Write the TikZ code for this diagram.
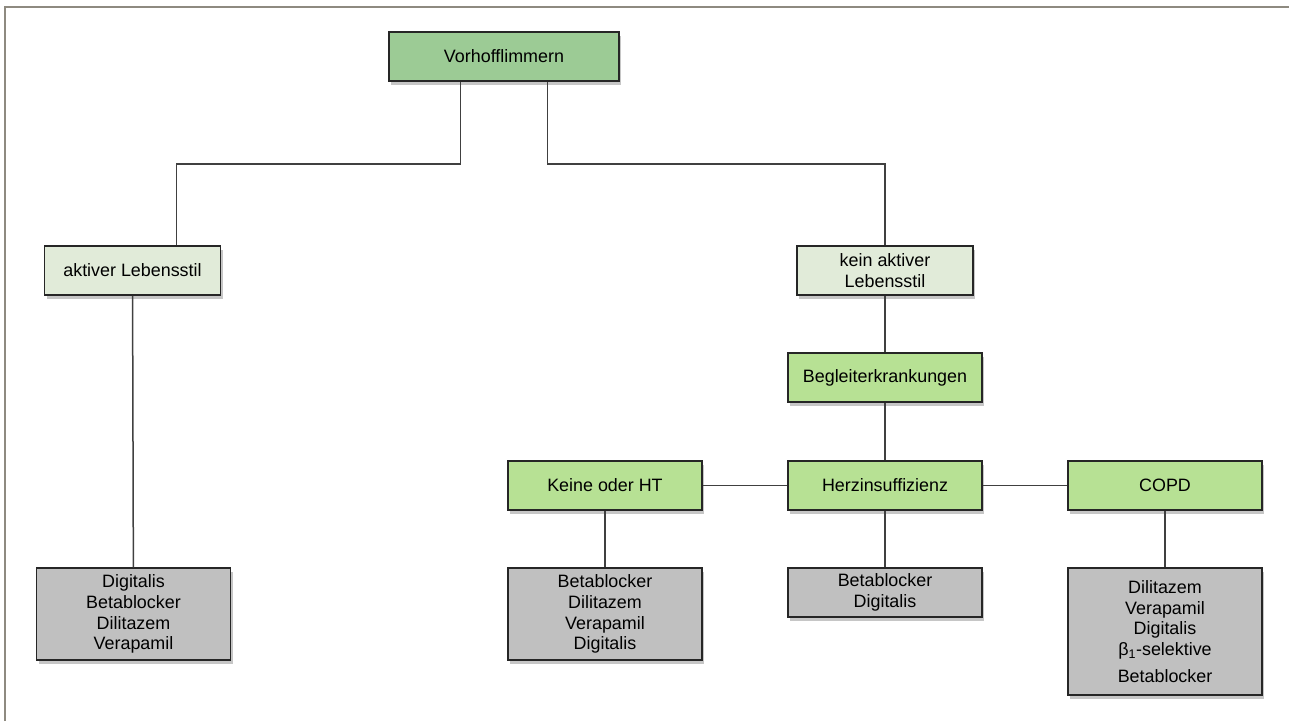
\documentclass[tikz,border=0pt]{standalone}
\usepackage{fontspec}
\setmainfont{Liberation Sans}
\usetikzlibrary{shadows}

\definecolor{topgreen}{HTML}{9CCB95}
\definecolor{palegreen}{HTML}{E1EBD9}
\definecolor{boxgreen}{HTML}{B7E194}
\definecolor{boxgray}{HTML}{C0C0C0}
\definecolor{framegray}{HTML}{8E8A80}

\begin{document}
\begin{tikzpicture}[x=1pt,y=-1pt,
  box/.style={draw=black!85,line width=1.5pt,inner sep=0pt,align=center,
    font=\fontsize{17.9}{20.8}\selectfont,
    drop shadow={shadow xshift=2pt,shadow yshift=-4pt,opacity=0.45}},
  link/.style={draw=black!75,line width=1.5pt}]

\useasboundingbox (0,0) rectangle (1289,721);
\draw [framegray,line width=2pt] (4.5,721) -- (4.5,6.5) -- (1289,6.5);

\node [box,fill=topgreen,minimum width=230pt,minimum height=49pt] (vhf) at (504,56.5) {Vorhofflimmern};
\node [box,fill=palegreen,minimum width=176pt,minimum height=49pt] (akt) at (132.5,270.5) {aktiver Lebensstil};
\node [box,fill=palegreen,minimum width=176pt,minimum height=49pt] (kein) at (885,270.5) {kein aktiver\\Lebensstil};
\node [box,fill=boxgreen,minimum width=194pt,minimum height=49pt] (begl) at (885,377.5) {Begleiterkrankungen};
\node [box,fill=boxgreen,minimum width=194pt,minimum height=49pt] (herz) at (885,485.5) {Herzinsuffizienz};
\node [box,fill=boxgreen,minimum width=194pt,minimum height=49pt] (keine) at (605,485.5) {Keine oder HT};
\node [box,fill=boxgreen,minimum width=194pt,minimum height=49pt] (copd) at (1165,485.5) {COPD};

\node [box,fill=boxgray,minimum width=194pt,minimum height=92pt] (thakt) at (133.5,614) {Digitalis\\Betablocker\\Dilitazem\\Verapamil};
\node [box,fill=boxgray,minimum width=194pt,minimum height=92pt] (thkeine) at (605,614) {Betablocker\\Dilitazem\\Verapamil\\Digitalis};
\node [box,fill=boxgray,minimum width=194pt,minimum height=49pt] (thherz) at (885,592.5) {Betablocker\\Digitalis};
\node [box,fill=boxgray,minimum width=194pt,minimum height=127pt] (thcopd) at (1165,631.5) {Dilitazem\\Verapamil\\Digitalis\\β\textsubscript{1}-selektive\\[6pt]Betablocker};

\draw [link] ([xshift=-43.5pt]vhf.south) -- ++(0,82) -| ([xshift=44pt]akt.north);
\draw [link] ([xshift=43.5pt]vhf.south) -- ++(0,82) -| (kein.north);
\draw [link] (kein) -- (begl);
\draw [link] (begl) -- (herz);
\draw [link] (keine) -- (herz);
\draw [link] (herz) -- (copd);
\draw [link] (akt) -- (thakt);
\draw [link] (keine) -- (thkeine);
\draw [link] (herz) -- (thherz);
\draw [link] (copd) -- (thcopd);
\end{tikzpicture}
\end{document}
